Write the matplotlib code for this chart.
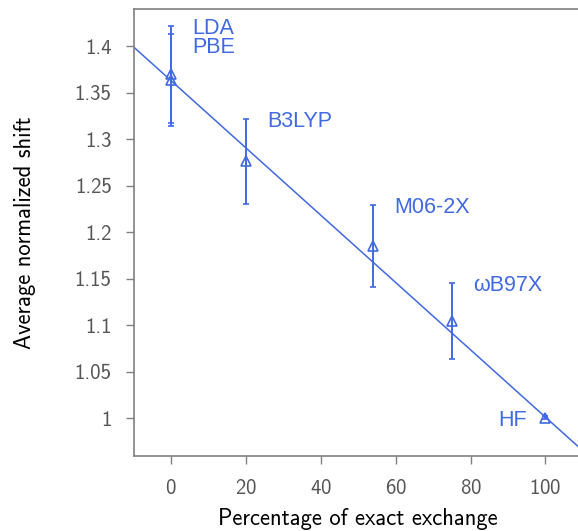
import matplotlib
matplotlib.use('Agg')
import matplotlib.pyplot as plt
from matplotlib.ticker import FuncFormatter

# values
functionals = ['LDA', 'PBE', 'B3LYP', 'M06-2X', 'ωB97X', 'HF']
exact_exchange = [0, 0, 20, 54, 75, 100]
avg_shift = [1.370, 1.3635, 1.2763, 1.1852, 1.1047, 1.001]
shift_err = [0.052, 0.0495, 0.046, 0.044, 0.041, 0.002]

# linear fit through the points
fit_intercept = 1.3629
fit_slope = -0.003614

blue = '#4169e1'
grey = '#808080'

plt.rcParams['font.family'] = ['cmss10', 'DejaVu Sans']
plt.rcParams['axes.unicode_minus'] = False
plt.rcParams['axes.formatter.use_mathtext'] = True

fig = plt.figure(figsize=(5.78, 5.31), dpi=100)
ax = fig.add_axes([0.2315, 0.1418, 0.7768, 0.8412])

ax.errorbar(exact_exchange, avg_shift, yerr=shift_err, fmt='^', color=blue,
            markerfacecolor='none', markersize=7, markeredgewidth=1.2,
            elinewidth=1.4, capsize=2.5, capthick=1.2, zorder=3)
ax.axline((0, fit_intercept), slope=fit_slope, color=blue, linewidth=1.1, zorder=2)

# text labels next to each functional
label_font = ['Liberation Sans', 'DejaVu Sans']
for name, x, y, e in zip(functionals, exact_exchange, avg_shift, shift_err):
    if name == 'HF':
        ax.text(x - 5, y, name, ha='right', va='center_baseline', color=blue,
                fontsize=15.5, family=label_font)
    elif name == 'PBE':
        ax.text(x + 5.6, y + 0.038, name, ha='left', va='center_baseline', color=blue,
                fontsize=15.5, family=label_font)
    else:
        ax.text(x + 5.6, y + e, name, ha='left', va='center_baseline', color=blue,
                fontsize=15.5, family=label_font)

ax.set_xlim(-10, 110)
ax.set_ylim(0.96, 1.44)
ax.set_xticks([0, 20, 40, 60, 80, 100])
ax.set_yticks([1, 1.05, 1.1, 1.15, 1.2, 1.25, 1.3, 1.35, 1.4])
ax.yaxis.set_major_formatter(FuncFormatter(lambda v, p: '%g' % v))

for side in ['left', 'bottom', 'top']:
    ax.spines[side].set_color(grey)
    ax.spines[side].set_linewidth(1.2)
ax.spines['right'].set_visible(False)

ax.tick_params(axis='both', direction='out', length=6, width=1, color=grey,
               labelcolor='#555555', labelsize=15)
ax.tick_params(axis='x', pad=11)
ax.tick_params(axis='y', pad=10)

ax.set_xlabel('Percentage of exact exchange', fontsize=16.3, color='black', labelpad=7)
ax.set_ylabel('Average normalized shift', fontsize=16.3, color='black', labelpad=28)

fig.savefig('out.png', dpi=100)
